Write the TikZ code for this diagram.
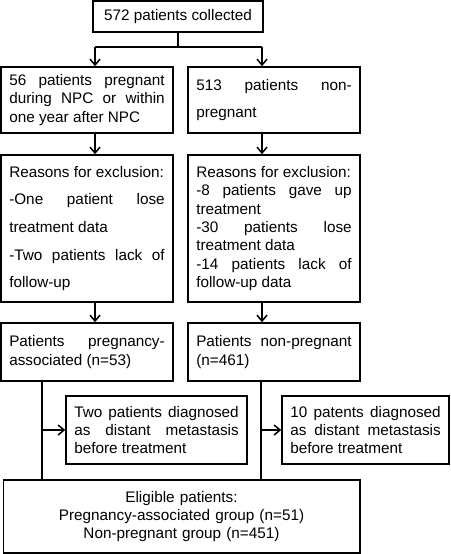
\documentclass[tikz,border=0pt]{standalone}
\usepackage{fontspec}
\setmainfont{Liberation Sans}
\usetikzlibrary{arrows.meta}
\newcommand{\flowfont}{\fontsize{15.3}{18.4}\selectfont\hyphenpenalty=10000\tolerance=10000\hbadness=10000}
\newcommand{\loosefont}{\fontsize{15.3}{27.6}\selectfont\hyphenpenalty=10000\tolerance=10000\hbadness=10000}
\tikzstyle{box} = [rectangle, draw=black, fill=white, line width=1.5pt, inner xsep=8.25pt, inner ysep=2pt, align=justify, font=\flowfont]
\tikzstyle{loosebox} = [box, font=\loosefont]
\tikzstyle{line} = [line width=1.5pt]
\tikzstyle{arrow} = [line width=1.5pt,-{Straight Barb[length=6pt,width=10pt]}]

\begin{document}
\begin{tikzpicture}[x=1pt, y=-1pt]
    \useasboundingbox (0,0) rectangle (450,554);
    \fill [white] (0,0) rectangle (450,554);

    \node (collected) [box, align=center, minimum width=170pt, minimum height=31pt] at (178,16.5) {572 patients collected};
    \node (pregnant) [box, text width=155.5pt, minimum height=66pt] at (87,100) {56 patients pregnant\linebreak during NPC or within\linebreak one year after NPC};
    \node (nonpregnant) [loosebox, text width=155.5pt, minimum height=66pt] at (274,100) {513 patients non-\linebreak pregnant};
    \node (exclA) [loosebox, text width=155.5pt, minimum height=147pt] at (87,228.5) {Reasons for exclusion:\\ -One patient lose\linebreak treatment data\\ -Two patients lack of\linebreak follow-up};
    \node (exclB) [box, text width=155.5pt, minimum height=147pt] at (274,228.5) {Reasons for exclusion:\\ -8 patients gave up\linebreak treatment\\ -30 patients lose\linebreak treatment data\\ -14 patients lack of\linebreak follow-up data};
    \node (assoc) [box, text width=155.5pt, minimum height=58pt] at (87,352) {Patients pregnancy-\linebreak associated (n=53)};
    \node (nonp) [box, text width=155.5pt, minimum height=58pt] at (274,352) {Patients non-pregnant\linebreak (n=461)};
    \node (metaA) [box, text width=164.5pt, minimum height=68pt] at (156.5,430) {Two patients diagnosed\linebreak as distant metastasis\linebreak before treatment};
    \node (metaB) [box, text width=150.5pt, minimum height=68pt] at (365.5,430) {10 patents diagnosed\linebreak as distant metastasis\linebreak before treatment};
    \node (eligible) [box, align=center, text width=340pt, minimum height=73pt] at (181.5,516.5) {Eligible patients:\\ Pregnancy-associated group (n=51)\\ Non-pregnant group (n=451)};

    \coordinate (lcol) at (95,0);
    \coordinate (rcol) at (262,0);
    \coordinate (lleg) at (42,0);
    \coordinate (rleg) at (261,0);

    \draw [line] (collected.south) -- ++(0,14) coordinate (fork);
    \draw [arrow] (fork -| lcol) -- (pregnant.north -| lcol);
    \draw [line] (fork -| lcol) -- (fork -| rcol);
    \draw [arrow] (fork -| rcol) -- (nonpregnant.north -| rcol);
    \draw [arrow] (pregnant.south -| lcol) -- (exclA.north -| lcol);
    \draw [arrow] (nonpregnant.south -| rcol) -- (exclB.north -| rcol);
    \draw [arrow] (exclA.south -| lcol) -- (assoc.north -| lcol);
    \draw [arrow] (exclB.south -| rcol) -- (nonp.north -| rcol);

    \draw [line] (assoc.south -| lleg) -- (eligible.north -| lleg);
    \draw [arrow] (metaA.west -| lleg) -- (metaA.west);
    \draw [line] (nonp.south -| rleg) -- (eligible.north -| rleg);
    \draw [arrow] (metaB.west -| rleg) -- (metaB.west);
\end{tikzpicture}
\end{document}
